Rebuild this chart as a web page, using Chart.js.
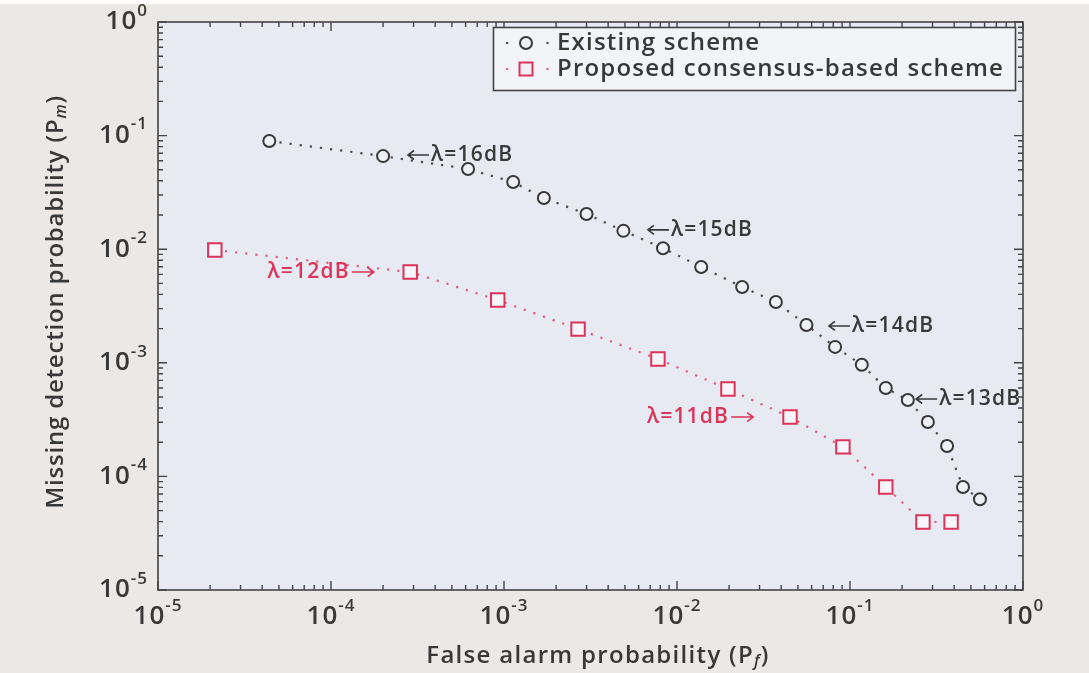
<!doctype html>
<html>
<head>
<meta charset="utf-8" />
<title>Missing detection vs false alarm</title>
<script src="https://cdn.jsdelivr.net/npm/chart.js@4.4.0/dist/chart.umd.min.js"></script>
<style>
html, body { margin:0; padding:0; background:#fff; }
</style>
</head>
<body>
<canvas id="chart1" width="1089" height="673"></canvas>
<script>
// existing scheme (circles)
var existingPf = [4.4e-5, 2.0e-4, 6.2e-4, 1.13e-3, 1.7e-3, 3.0e-3, 4.9e-3, 8.3e-3, 1.38e-2, 2.38e-2,
                  3.73e-2, 5.6e-2, 8.2e-2, 0.117, 0.161, 0.216, 0.282, 0.364, 0.45, 0.564];
var existingPm = [8.96e-2, 6.6e-2, 5.08e-2, 3.9e-2, 2.82e-2, 2.04e-2, 1.45e-2, 1.02e-2, 6.97e-3, 4.65e-3,
                  3.43e-3, 2.15e-3, 1.38e-3, 9.6e-4, 6.0e-4, 4.7e-4, 3.01e-4, 1.85e-4, 8.07e-5, 6.3e-5];
// proposed consensus-based scheme (squares)
var proposedPf = [2.13e-5, 2.87e-4, 9.2e-4, 2.68e-3, 7.76e-3, 1.97e-2, 4.5e-2, 9.1e-2, 0.161, 0.264, 0.384];
var proposedPm = [9.84e-3, 6.3e-3, 3.57e-3, 1.98e-3, 1.08e-3, 5.88e-4, 3.33e-4, 1.82e-4, 8.07e-5, 3.97e-5, 3.97e-5];

var xDecades = [-5, -4, -3, -2, -1, 0];
var yDecades = [-5, -4, -3, -2, -1, 0];

// lambda notes: text, arrow side, left edge / middle in data units, series colour
var noteText = ["λ=16dB", "λ=15dB", "λ=14dB", "λ=13dB", "λ=12dB", "λ=11dB"];
var noteArrow = ["left", "left", "left", "left", "right", "right"];
var notePf = [2.75e-4, 6.7e-3, 7.46e-2, 0.238, 4.3e-5, 6.7e-3];
var notePm = [0.0675, 0.0148, 2.11e-3, 4.8e-4, 6.3e-3, 3.33e-4];
var noteSeries = [0, 0, 0, 0, 1, 1];

var FONT = '"Open Sans", sans-serif';
var DARK = '#383838';
var RED = '#dc3358';
var seriesColor = [DARK, RED];

function toXY(a, b) {
  return a.map(function(v, i) { return {x: v, y: b[i]}; });
}

// draws "10" with a raised exponent
function drawPow(ctx, exp, x, y, align) {
  ctx.letterSpacing = '1px';
  ctx.font = '600 26px ' + FONT;
  var w1 = ctx.measureText('10').width;
  ctx.font = '600 17px ' + FONT;
  var e = String(exp);
  var w2 = ctx.measureText(e).width;
  var total = w1 + w2;
  var sx = align === 'right' ? x - total : x - total / 2;
  ctx.textAlign = 'left';
  ctx.textBaseline = 'middle';
  ctx.font = '600 26px ' + FONT;
  ctx.fillText('10', sx, y);
  ctx.font = '600 17px ' + FONT;
  ctx.fillText(e, sx + w1, y - 11);
  ctx.letterSpacing = '0px';
}

// text with italic subscript pieces, centred on x
function drawRich(ctx, parts, x, y, ls) {
  var total = 0;
  ctx.letterSpacing = ls;
  parts.forEach(function(p) { ctx.font = p.f; p.w = ctx.measureText(p.t).width; total += p.w; });
  var sx = x - total / 2;
  ctx.textAlign = 'left';
  ctx.textBaseline = 'middle';
  parts.forEach(function(p) {
    ctx.font = p.f;
    ctx.fillText(p.t, sx, y + (p.dy || 0));
    sx += p.w;
  });
  ctx.letterSpacing = '0px';
}

function arrow(ctx, x0, x1, y) {
  // head at x1
  var dir = x1 > x0 ? 1 : -1;
  ctx.beginPath();
  ctx.moveTo(x0, y); ctx.lineTo(x1, y);
  ctx.moveTo(x1 - dir * 6, y - 4.5); ctx.lineTo(x1, y); ctx.lineTo(x1 - dir * 6, y + 4.5);
  ctx.stroke();
}

function marker(ctx, kind, x, y) {
  ctx.beginPath();
  if (kind === 0) ctx.arc(x, y, 6, 0, Math.PI * 2);
  else ctx.rect(x - 6.5, y - 6.5, 13, 13);
  ctx.fill();
  ctx.stroke();
}

var decor = {
  id: 'decor',
  beforeDraw: function(chart) {
    var ctx = chart.ctx, a = chart.chartArea;
    ctx.save();
    ctx.fillStyle = '#ebe8e5';
    ctx.fillRect(0, 0, chart.width, chart.height);
    ctx.fillStyle = '#ffffff';
    ctx.fillRect(0, 0, chart.width, 4);
    ctx.fillStyle = '#e7eaf2';
    ctx.fillRect(a.left, a.top, a.right - a.left, a.bottom - a.top);
    ctx.restore();
  },
  afterDatasetsDraw: function(chart) {
    var ctx = chart.ctx, xs = chart.scales.x, ys = chart.scales.y;
    ctx.save();
    ctx.font = '600 21px ' + FONT;
    ctx.letterSpacing = '1.2px';
    ctx.textAlign = 'left';
    ctx.textBaseline = 'middle';
    ctx.lineWidth = 1.6;
    for (var i = 0; i < noteText.length; i++) {
      var c = seriesColor[noteSeries[i]];
      ctx.fillStyle = c;
      ctx.strokeStyle = c;
      var x = xs.getPixelForValue(notePf[i]);
      var y = ys.getPixelForValue(notePm[i]);
      var w = ctx.measureText(noteText[i]).width;
      if (noteArrow[i] === 'left') {
        arrow(ctx, x + 22, x + 1, y);
        ctx.fillText(noteText[i], x + 24, y);
      } else {
        ctx.fillText(noteText[i], x, y);
        arrow(ctx, x + w + 2, x + w + 24, y);
      }
    }
    ctx.letterSpacing = '0px';
    ctx.restore();
  },
  afterDraw: function(chart) {
    var ctx = chart.ctx, a = chart.chartArea, xs = chart.scales.x, ys = chart.scales.y;
    ctx.save();
    // frame
    ctx.strokeStyle = '#444';
    ctx.lineWidth = 1.6;
    ctx.strokeRect(a.left, a.top, a.right - a.left, a.bottom - a.top);
    // inward ticks
    ctx.lineWidth = 1.4;
    ctx.beginPath();
    xDecades.forEach(function(d) {
      for (var m = 1; m <= 9; m++) {
        if (d === 0 && m > 1) break;
        var len = m === 1 ? 9 : 5;
        var px = xs.getPixelForValue(m * Math.pow(10, d));
        ctx.moveTo(px, a.bottom); ctx.lineTo(px, a.bottom - len);
        ctx.moveTo(px, a.top); ctx.lineTo(px, a.top + len);
      }
    });
    yDecades.forEach(function(d) {
      for (var m = 1; m <= 9; m++) {
        if (d === 0 && m > 1) break;
        var len = m === 1 ? 9 : 5;
        var py = ys.getPixelForValue(m * Math.pow(10, d));
        ctx.moveTo(a.left, py); ctx.lineTo(a.left + len, py);
        ctx.moveTo(a.right, py); ctx.lineTo(a.right - len, py);
      }
    });
    ctx.stroke();

    // tick labels
    ctx.fillStyle = DARK;
    xDecades.forEach(function(d) {
      drawPow(ctx, d, xs.getPixelForValue(Math.pow(10, d)), a.bottom + 27, 'center');
    });
    yDecades.forEach(function(d) {
      drawPow(ctx, d, a.left - 10, ys.getPixelForValue(Math.pow(10, d)), 'right');
    });

    // axis titles
    drawRich(ctx, [
      {t: 'False alarm probability (P', f: '600 24px ' + FONT},
      {t: 'f', f: 'italic 600 16px ' + FONT, dy: 5},
      {t: ')', f: '600 24px ' + FONT}
    ], 598, 656, '1.3px');
    ctx.save();
    ctx.translate(56, 302);
    ctx.rotate(-Math.PI / 2);
    drawRich(ctx, [
      {t: 'Missing detection probability (P', f: '600 24px ' + FONT},
      {t: 'm', f: 'italic 600 16px ' + FONT, dy: 5},
      {t: ')', f: '600 24px ' + FONT}
    ], 0, 0, '0.8px');
    ctx.restore();

    // legend box
    ctx.fillStyle = '#f3f4f8';
    ctx.fillRect(493, 27, 522, 63);
    ctx.strokeStyle = '#444';
    ctx.lineWidth = 1.6;
    ctx.strokeRect(493.5, 27.5, 522, 63);
    var names = ['Existing scheme', 'Proposed consensus-based scheme'];
    var rows = [43, 69];
    for (var k = 0; k < 2; k++) {
      var col = k === 0 ? '#4a4a4a' : 'rgba(220,51,88,0.75)';
      ctx.strokeStyle = col;
      ctx.lineWidth = 2.2;
      ctx.setLineDash([2.2, 18]);
      ctx.beginPath();
      ctx.moveTo(506, rows[k]); ctx.lineTo(552, rows[k]);
      ctx.stroke();
      ctx.setLineDash([]);
      ctx.fillStyle = '#eef0f6';
      ctx.strokeStyle = seriesColor[k];
      ctx.lineWidth = 2;
      marker(ctx, k, 526, rows[k]);
      ctx.fillStyle = DARK;
      ctx.font = '600 24px ' + FONT;
      ctx.letterSpacing = '1.2px';
      ctx.textAlign = 'left';
      ctx.textBaseline = 'middle';
      ctx.fillText(names[k], 557, rows[k]);
      ctx.letterSpacing = '0px';
    }
    ctx.restore();
  }
};

var chart1 = new Chart('chart1', {
  type: 'scatter',
  data: {
    datasets: [{
      label: 'Existing scheme',
      data: toXY(existingPf, existingPm),
      showLine: true,
      borderColor: '#4a4a4a',
      borderWidth: 2.2,
      borderDash: [2.2, 8],
      pointStyle: 'circle',
      pointRadius: 6,
      pointBorderWidth: 2,
      pointBorderColor: DARK,
      pointBackgroundColor: '#eef0f6'
    }, {
      label: 'Proposed consensus-based scheme',
      data: toXY(proposedPf, proposedPm),
      showLine: true,
      borderColor: 'rgba(220,51,88,0.75)',
      borderWidth: 2.2,
      borderDash: [2.2, 8],
      pointStyle: 'rect',
      pointRadius: 9.5,
      pointBorderWidth: 2,
      pointBorderColor: RED,
      pointBackgroundColor: '#f6f6fa'
    }]
  },
  options: {
    responsive: false,
    animation: false,
    layout: { padding: { left: 158, top: 22, right: 66, bottom: 83 } },
    scales: {
      x: { type: 'logarithmic', min: 1e-5, max: 1, display: false },
      y: { type: 'logarithmic', min: 1e-5, max: 1, display: false }
    },
    plugins: {
      legend: { display: false },
      tooltip: { enabled: false }
    }
  },
  plugins: [decor]
});
</script>
</body>
</html>
